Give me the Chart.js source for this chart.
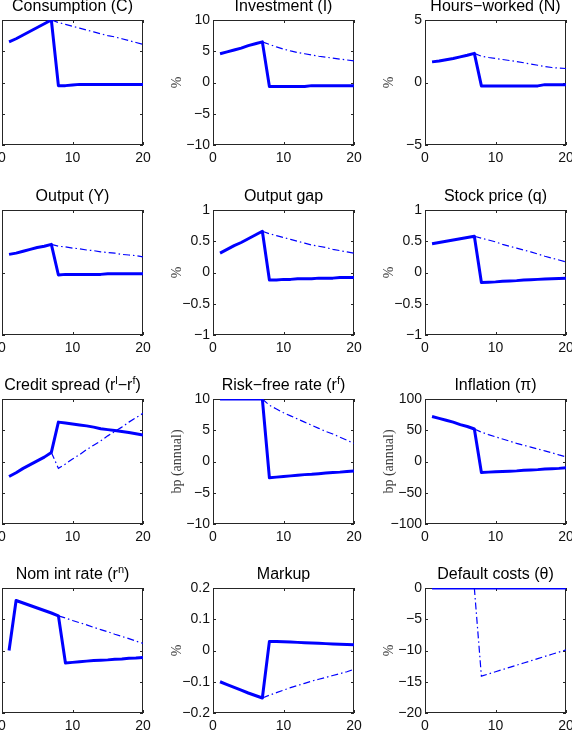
<!DOCTYPE html>
<html>
<head>
<meta charset="utf-8">
<script src="https://cdn.jsdelivr.net/npm/chart.js@4.4.1/dist/chart.umd.min.js"></script>
<style>
  html, body { margin: 0; padding: 0; background: #fff; }
  body { width: 572px; height: 736px; position: relative; overflow: hidden; }
  canvas { position: absolute; }
</style>
</head>
<body>
<script>
// Horizon (quarters)
const periods = [1, 2, 3, 4, 5, 6, 7, 8, 9, 10, 11, 12, 13, 14, 15, 16, 17, 18, 19, 20];

// Solid = first scenario, dash-dot = second scenario
const consSolid = [0.65, 0.70, 0.76, 0.82, 0.88, 0.94, 1.00, -0.05, -0.05, -0.04, -0.03, -0.03, -0.03, -0.03, -0.03, -0.03, -0.03, -0.03, -0.03, -0.03];
const consDash = [null, null, null, null, null, null, 1.00, 0.96, 0.93, 0.90, 0.87, 0.84, 0.81, 0.78, 0.75, 0.73, 0.70, 0.67, 0.64, 0.61];

const invSolid = [4.6, 4.9, 5.2, 5.5, 5.9, 6.2, 6.5, -0.65, -0.65, -0.65, -0.65, -0.65, -0.65, -0.5, -0.5, -0.5, -0.5, -0.5, -0.5, -0.5];
const invDash = [null, null, null, null, null, null, 6.5, 6.1, 5.7, 5.35, 5.05, 4.8, 4.6, 4.4, 4.2, 4.05, 3.9, 3.75, 3.6, 3.45];

const hoursSolid = [1.65, 1.72, 1.82, 1.92, 2.05, 2.18, 2.33, -0.27, -0.27, -0.27, -0.27, -0.27, -0.27, -0.27, -0.27, -0.27, -0.17, -0.17, -0.17, -0.17];
const hoursDash = [null, null, null, null, null, null, 2.33, 2.1, 2.0, 1.92, 1.84, 1.76, 1.68, 1.58, 1.48, 1.38, 1.28, 1.2, 1.15, 1.12];

const outSolid = [0.29, 0.31, 0.34, 0.37, 0.40, 0.42, 0.45, -0.04, -0.03, -0.03, -0.03, -0.03, -0.03, -0.03, -0.02, -0.02, -0.02, -0.02, -0.02, -0.02];
const outDash = [null, null, null, null, null, null, 0.45, 0.42, 0.41, 0.39, 0.38, 0.36, 0.35, 0.33, 0.32, 0.31, 0.29, 0.28, 0.27, 0.25];

const gapSolid = [0.31, 0.37, 0.43, 0.48, 0.54, 0.60, 0.66, -0.12, -0.12, -0.11, -0.11, -0.10, -0.10, -0.10, -0.09, -0.09, -0.09, -0.08, -0.08, -0.08];
const gapDash = [null, null, null, null, null, null, 0.66, 0.62, 0.59, 0.56, 0.53, 0.50, 0.47, 0.44, 0.42, 0.40, 0.37, 0.35, 0.33, 0.31];

const stockSolid = [0.46, 0.48, 0.50, 0.52, 0.54, 0.56, 0.58, -0.16, -0.155, -0.15, -0.14, -0.135, -0.13, -0.12, -0.115, -0.11, -0.105, -0.10, -0.095, -0.09];
const stockDash = [null, null, null, null, null, null, 0.58, 0.55, 0.52, 0.49, 0.45, 0.42, 0.39, 0.36, 0.33, 0.295, 0.26, 0.23, 0.20, 0.17];

const spreadSolid = [-0.24, -0.18, -0.11, -0.05, 0.01, 0.07, 0.145, 0.63, 0.615, 0.60, 0.585, 0.57, 0.55, 0.525, 0.51, 0.495, 0.48, 0.465, 0.445, 0.425];
const spreadDash = [null, null, null, null, null, null, 0.145, -0.11, -0.04, 0.04, 0.11, 0.19, 0.26, 0.33, 0.41, 0.48, 0.55, 0.63, 0.70, 0.77];

const rfSolid = [10, 10, 10, 10, 10, 10, 10, -2.6, -2.5, -2.4, -2.3, -2.2, -2.1, -2.05, -1.95, -1.85, -1.75, -1.7, -1.6, -1.5];
const rfDash = [null, null, null, null, null, null, 10, 9.0, 8.4, 7.8, 7.3, 6.8, 6.3, 5.8, 5.3, 4.8, 4.4, 3.9, 3.4, 2.9];

const inflSolid = [72, 69, 66, 63, 59, 56, 52, -17.5, -17, -16.5, -16, -15.5, -15, -14, -13.5, -13, -12, -11.5, -11, -10];
const inflDash = [null, null, null, null, null, null, 52, 47, 43, 39.5, 36, 32.5, 29, 26, 23, 20, 17, 14, 10.5, 7.5];

const nomSolid = [0.0, 0.80, 0.76, 0.72, 0.68, 0.64, 0.60, 0.555, -0.20, -0.19, -0.18, -0.17, -0.16, -0.155, -0.15, -0.14, -0.135, -0.125, -0.12, -0.11];
const nomDash = [null, null, null, null, null, null, null, 0.555, 0.52, 0.48, 0.445, 0.41, 0.37, 0.335, 0.30, 0.26, 0.225, 0.19, 0.15, 0.115];

const markupSolid = [-0.10, -0.109, -0.118, -0.127, -0.136, -0.144, -0.152, 0.029, 0.029, 0.028, 0.027, 0.026, 0.025, 0.024, 0.023, 0.022, 0.021, 0.020, 0.019, 0.018];
const markupDash = [null, null, null, null, null, null, -0.152, -0.143, -0.135, -0.127, -0.119, -0.112, -0.105, -0.098, -0.092, -0.086, -0.080, -0.074, -0.068, -0.060];

const defSolid = [0, 0, 0, 0, 0, 0, 0, 0, 0, 0, 0, 0, 0, 0, 0, 0, 0, 0, 0, 0];
const defDash = [null, null, null, null, null, null, 0, -14.1, -13.75, -13.4, -13.05, -12.7, -12.35, -12.0, -11.65, -11.3, -10.95, -10.6, -10.25, -9.9];

// x axis ticks
const xTicks = [0, 10, 20];

// Panels, row by row ('^x' = superscript x)
const panels = [
    { title: 'Consumption (C)', min: -1, max: 1, step: 0.5, unit: '', solid: consSolid, dash: consDash },
    { title: 'Investment (I)', min: -10, max: 10, step: 5, unit: '%', solid: invSolid, dash: invDash },
    { title: 'Hours\u2212worked (N)', min: -5, max: 5, step: 5, unit: '%', solid: hoursSolid, dash: hoursDash },
    { title: 'Output (Y)', min: -1, max: 1, step: 1, unit: '', solid: outSolid, dash: outDash },
    { title: 'Output gap', min: -1, max: 1, step: 0.5, unit: '%', solid: gapSolid, dash: gapDash },
    { title: 'Stock price (q)', min: -1, max: 1, step: 0.5, unit: '%', solid: stockSolid, dash: stockDash },
    { title: 'Credit spread (r^l\u2212r^f)', min: -1, max: 1, step: 0.5, unit: '', solid: spreadSolid, dash: spreadDash },
    { title: 'Risk\u2212free rate (r^f)', min: -10, max: 10, step: 5, unit: 'bp (annual)', solid: rfSolid, dash: rfDash },
    { title: 'Inflation (\u03c0)', min: -100, max: 100, step: 50, unit: 'bp (annual)', solid: inflSolid, dash: inflDash },
    { title: 'Nom int rate (r^n)', min: -1, max: 1, step: 0.5, unit: '', solid: nomSolid, dash: nomDash },
    { title: 'Markup', min: -0.2, max: 0.2, step: 0.1, unit: '%', solid: markupSolid, dash: markupDash },
    { title: 'Default costs (\u03b8)', min: -20, max: 0, step: 5, unit: '%', solid: defSolid, dash: defDash }
];

// page geometry of the plot boxes
const colLeft = [2, 213, 425];
const rowTop = [20, 210, 399, 588];
const boxW = 141, boxH = 125;
const padL = 70, padT = 34, padR = 20, padB = 30;

const SANS = '"Liberation Sans", Arial, Helvetica, sans-serif';
const BLUE = '#0000ff';

function fmt(v) {
    return String(Math.round(v * 1000) / 1000).replace('-', '\u2212');
}

function drawTitle(ctx, text, cx, baseY) {
    const parts = text.split(/\^(.)/);
    const big = '16px ' + SANS, small = '11px ' + SANS;
    let w = 0;
    parts.forEach((p, i) => { ctx.font = i % 2 ? small : big; w += ctx.measureText(p).width; });
    let x = cx - w / 2;
    ctx.fillStyle = '#000';
    ctx.textBaseline = 'alphabetic';
    ctx.textAlign = 'left';
    parts.forEach((p, i) => {
        ctx.font = i % 2 ? small : big;
        ctx.fillText(p, x, i % 2 ? baseY - 6 : baseY);
        x += ctx.measureText(p).width;
    });
}

// MATLAB-like box, inward ticks on all sides and the title
const matlabFrame = {
    id: 'matlabFrame',
    beforeDatasetsDraw(chart) {
        const { ctx, chartArea: a, scales: { x, y } } = chart;
        ctx.save();
        ctx.strokeStyle = '#262626';
        ctx.lineWidth = 1;
        ctx.beginPath();
        x.ticks.forEach(t => {
            const px = Math.round(x.getPixelForValue(t.value)) + 0.5;
            ctx.moveTo(px, a.bottom); ctx.lineTo(px, a.bottom - 3);
            ctx.moveTo(px, a.top); ctx.lineTo(px, a.top + 3);
        });
        y.ticks.forEach(t => {
            const py = Math.round(y.getPixelForValue(t.value)) + 0.5;
            ctx.moveTo(a.left, py); ctx.lineTo(a.left + 3, py);
            ctx.moveTo(a.right, py); ctx.lineTo(a.right - 3, py);
        });
        ctx.stroke();
        ctx.strokeRect(a.left + 0.5, a.top + 0.5, a.width - 1, a.height - 1);
        ctx.restore();
    },
    afterDraw(chart, args, opts) {
        const { ctx, chartArea: a } = chart;
        ctx.save();
        drawTitle(ctx, opts.text, (a.left + a.right) / 2, a.top - 9.5);
        ctx.restore();
    }
};

panels.forEach((p, i) => {
    const col = i % 3, row = Math.floor(i / 3);
    const canvas = document.createElement('canvas');
    canvas.width = padL + boxW + padR;
    canvas.height = padT + boxH + padB;
    canvas.style.left = (colLeft[col] - padL) + 'px';
    canvas.style.top = (rowTop[row] - padT) + 'px';
    document.body.appendChild(canvas);

    const showY = col > 0;

    new Chart(canvas, {
        type: 'line',
        data: {
            datasets: [{
                data: periods.map((t, k) => ({ x: t, y: p.solid[k] })),
                borderColor: BLUE,
                borderWidth: 3,
                borderJoinStyle: 'round',
                pointRadius: 0,
                tension: 0
            }, {
                data: periods.map((t, k) => ({ x: t, y: p.dash[k] })),
                borderColor: BLUE,
                borderWidth: 1.2,
                borderDash: [7, 3, 1.5, 3],
                pointRadius: 0,
                tension: 0
            }]
        },
        options: {
            responsive: false,
            animation: false,
            events: [],
            layout: { padding: { top: padT, right: padR, left: 0, bottom: 0 } },
            plugins: {
                legend: { display: false },
                tooltip: { enabled: false },
                matlabFrame: { text: p.title }
            },
            scales: {
                x: {
                    type: 'linear',
                    min: 0,
                    max: 20,
                    grid: { display: false, drawTicks: false },
                    border: { display: false },
                    afterBuildTicks: s => { s.ticks = xTicks.map(v => ({ value: v })); },
                    ticks: {
                        padding: 5,
                        color: '#111',
                        font: { family: SANS, size: 14 },
                        callback: v => fmt(v),
                        maxRotation: 0
                    },
                    afterFit: s => { s.height = padB; s.paddingLeft = 0; s.paddingRight = 0; }
                },
                y: {
                    type: 'linear',
                    min: p.min,
                    max: p.max,
                    grid: { display: false, drawTicks: false },
                    border: { display: false },
                    ticks: {
                        display: showY,
                        stepSize: p.step,
                        padding: 3,
                        color: '#111',
                        font: { family: SANS, size: 14 },
                        callback: v => fmt(v)
                    },
                    title: {
                        display: showY && p.unit !== '',
                        text: p.unit,
                        color: '#404040',
                        font: { family: '"Liberation Serif", "Times New Roman", serif', size: 14 },
                        padding: { top: 25.6, bottom: 0 }
                    },
                    afterFit: s => { s.width = padL; s.paddingTop = 0; s.paddingBottom = 0; }
                }
            }
        },
        plugins: [matlabFrame]
    });
});
</script>
</body>
</html>
